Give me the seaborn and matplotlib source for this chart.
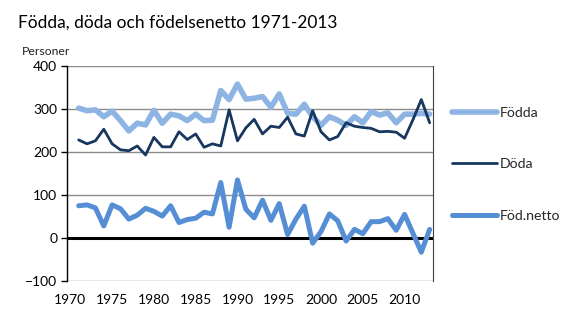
import matplotlib
matplotlib.use("Agg")
import matplotlib.pyplot as plt
import pandas as pd
import seaborn as sns
from matplotlib.lines import Line2D

# Befolkningsförändringar per år
years = list(range(1971, 2014))
fodda = [302, 296, 298, 282, 295, 273, 249, 267, 263, 297,
         267, 288, 284, 273, 288, 273, 274, 343, 322, 358,
         323, 325, 329, 304, 335, 290, 288, 311, 282, 262,
         282, 274, 262, 282, 268, 294, 286, 291, 268, 288,
         288, 290, 288]
doda = [228, 219, 226, 253, 219, 205, 203, 214, 193, 234,
        212, 212, 247, 229, 242, 211, 219, 214, 298, 226,
        256, 276, 242, 260, 257, 281, 242, 237, 296, 247,
        228, 236, 268, 260, 257, 255, 247, 248, 246, 232,
        275, 322, 268]
netto = [75, 77, 70, 28, 77, 68, 44, 53, 69, 62,
         51, 75, 36, 43, 46, 60, 56, 129, 25, 135,
         67, 47, 88, 41, 80, 8, 44, 74, -12, 15,
         56, 40, -7, 20, 10, 38, 38, 45, 18, 55,
         11, -33, 20]
series_names = ["Födda", "Döda", "Föd.netto"]
y_ticks = [-100, 0, 100, 200, 300, 400]
x_ticks = [1970, 1975, 1980, 1985, 1990, 1995, 2000, 2005, 2010]

df = pd.DataFrame({"År": years, "Födda": fodda, "Döda": doda, "Föd.netto": netto})

colors = {"Födda": "#8DB4E2", "Döda": "#17375E", "Föd.netto": "#558ED5"}
widths = {"Födda": 4.0, "Döda": 2.0, "Föd.netto": 3.6}

sns.set_theme(style="white")
plt.rcParams["font.family"] = ["Lato", "DejaVu Sans"]

W, H = 583, 331
fig = plt.figure(figsize=(W / 100, H / 100), dpi=100)
ax = fig.add_axes([67 / W, 50 / H, (433 - 67) / W, (281 - 66) / H])

for name in series_names:
    sns.lineplot(data=df, x="År", y=name, ax=ax, color=colors[name],
                 linewidth=widths[name], legend=False,
                 solid_joinstyle="round", solid_capstyle="round", zorder=3)

ax.set_xlim(1969.6, 2013.4)
ax.set_ylim(-100, 400)
ax.set_yticks(y_ticks)
ax.set_xticks(x_ticks)
ax.set_xlabel("")
ax.set_ylabel("")

ax.yaxis.grid(True, color="#8C8C8C", linewidth=1.0)
ax.xaxis.grid(False)
ax.axhline(0, color="black", linewidth=2.2, zorder=2)

for side in ["top", "bottom"]:
    ax.spines[side].set_visible(False)
ax.spines["left"].set_color("black")
ax.spines["left"].set_linewidth(1.0)
ax.spines["right"].set_color("#404040")
ax.spines["right"].set_linewidth(0.8)

ax.tick_params(axis="y", left=True, length=4, width=1, color="black",
               pad=3, labelsize=10, labelcolor="black")
ax.tick_params(axis="x", bottom=False, length=0, pad=9, labelsize=10,
               labelcolor="black")

handles = [Line2D([], [], color=colors[n], linewidth=widths[n],
                  solid_capstyle="round") for n in series_names]
ax.legend(handles, series_names, loc="upper left",
          bbox_to_anchor=(446 / W, 1 - 101 / H), bbox_transform=fig.transFigure,
          frameon=False, handlelength=3.2, handletextpad=0.2,
          labelspacing=2.8, fontsize=10.2, borderaxespad=0)

fig.text(18 / W, 1 - 28 / H, "Födda, döda och födelsenetto 1971-2013",
         fontsize=12.5, va="baseline", ha="left", color="black")
fig.text(22 / W, 1 - 55 / H, "Personer", fontsize=8.8, va="baseline",
         ha="left", color="#222222")

fig.savefig("out.png", dpi=100)
